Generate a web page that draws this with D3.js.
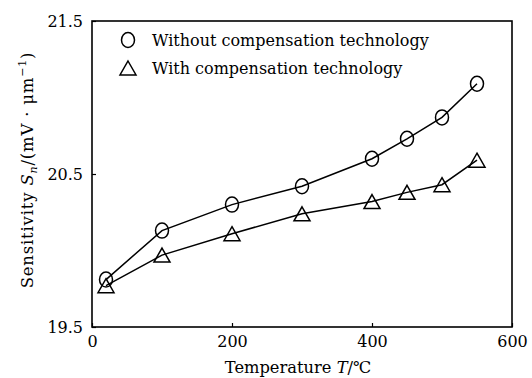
<!DOCTYPE html>
<html>
<head>
<meta charset="utf-8">
<script src="https://cdn.jsdelivr.net/npm/d3@7"></script>
<style>
  body { margin: 0; background: #fff; }
</style>
</head>
<body>
<svg id="chart" width="532" height="378"></svg>
<script>
const temps = [20, 100, 200, 300, 400, 450, 500, 550];
const withoutComp = [19.81, 20.13, 20.30, 20.42, 20.60, 20.73, 20.87, 21.09];
const withComp = [19.77, 19.97, 20.11, 20.24, 20.32, 20.38, 20.43, 20.59];
const xTicks = [0, 200, 400, 600];
const yTicks = [19.5, 20.5, 21.5];
const legendLabels = ["Without compensation technology", "With compensation technology"];

const serif = "DejaVu Serif";
const svg = d3.select("#chart");
const plotLeft = 92, plotRight = 512, plotTop = 21, plotBottom = 327;

const x = d3.scaleLinear().domain([0, 600]).range([plotLeft, plotRight]);
const y = d3.scaleLinear().domain([19.5, 21.5]).range([plotBottom, plotTop]);

// frame
svg.append("rect")
    .attr("x", plotLeft).attr("y", plotTop)
    .attr("width", plotRight - plotLeft).attr("height", plotBottom - plotTop)
    .attr("fill", "none").attr("stroke", "#000").attr("stroke-width", 1.6);

// axes with inside ticks
const xAxis = svg.append("g")
    .attr("transform", `translate(0,${plotBottom})`)
    .call(d3.axisBottom(x).tickValues(xTicks).tickSizeInner(-4).tickSizeOuter(0).tickPadding(9));
const yAxis = svg.append("g")
    .attr("transform", `translate(${plotLeft},0)`)
    .call(d3.axisLeft(y).tickValues(yTicks).tickFormat(d3.format(".1f")).tickSizeInner(-4).tickSizeOuter(0).tickPadding(9));
[xAxis, yAxis].forEach((g) => {
    g.attr("font-family", serif).attr("font-size", 16);
    g.select(".domain").remove();
    g.selectAll(".tick line").attr("stroke", "#000").attr("stroke-width", 1.2);
    g.selectAll(".tick text").attr("fill", "#000");
});

// axis titles
const xt = svg.append("text")
    .attr("x", 298).attr("y", 373)
    .attr("text-anchor", "middle")
    .attr("font-family", serif)
    .attr("font-size", 16.3);
xt.append("tspan").text("Temperature ");
xt.append("tspan").attr("font-style", "italic").text("T");
xt.append("tspan").text("/℃");

const yt = svg.append("text")
    .attr("transform", "translate(33,170) rotate(-90)")
    .attr("text-anchor", "middle")
    .attr("font-family", serif)
    .attr("font-size", 16.5)
    .attr("letter-spacing", 0.8);
yt.append("tspan").text("Sensitivity ");
yt.append("tspan").attr("font-style", "italic").text("S");
yt.append("tspan").attr("font-style", "italic").attr("font-size", 11).attr("dy", 4).text("n");
yt.append("tspan").attr("dy", -4).text("/(mV · μm");
yt.append("tspan").attr("font-size", 11).attr("dy", -7).text("−1");
yt.append("tspan").attr("dy", 7).text(")");

const line = d3.line()
    .x((d, i) => x(temps[i]))
    .y((d) => y(d));

const triPath = (cx, cy) => `M${cx},${cy - 8}L${cx + 8},${cy + 6}L${cx - 8},${cy + 6}Z`;

[withoutComp, withComp].forEach((series) => {
    svg.append("path")
        .datum(series)
        .attr("d", line)
        .attr("fill", "none")
        .attr("stroke", "#000")
        .attr("stroke-width", 1.5);
});

svg.selectAll(".circ")
    .data(withoutComp)
    .enter()
    .append("ellipse")
    .attr("cx", (d, i) => x(temps[i]))
    .attr("cy", (d) => y(d))
    .attr("rx", 6.5).attr("ry", 7.5)
    .attr("fill", "none").attr("stroke", "#000").attr("stroke-width", 1.5);

svg.selectAll(".tri")
    .data(withComp)
    .enter()
    .append("path")
    .attr("d", (d, i) => triPath(x(temps[i]), y(d) + 1))
    .attr("fill", "none").attr("stroke", "#000").attr("stroke-width", 1.5);

// legend
const legend = svg.append("g");
legend.append("ellipse")
    .attr("cx", 128).attr("cy", 40).attr("rx", 6.5).attr("ry", 7.5)
    .attr("fill", "none").attr("stroke", "#000").attr("stroke-width", 1.5);
legend.append("path")
    .attr("d", triPath(128, 69))
    .attr("fill", "none").attr("stroke", "#000").attr("stroke-width", 1.5);
legend.selectAll(".lab")
    .data(legendLabels)
    .enter()
    .append("text")
    .attr("x", 152)
    .attr("y", (d, i) => 46 + i * 28)
    .attr("font-family", serif)
    .attr("font-size", 16)
    .text((d) => d);
</script>
</body>
</html>
